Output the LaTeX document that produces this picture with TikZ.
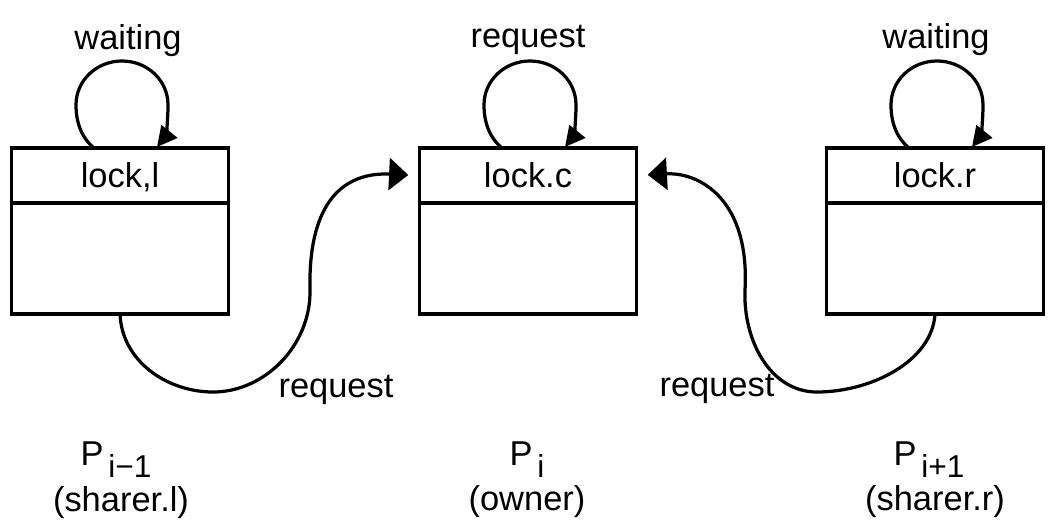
\documentclass[tikz,border=0pt]{standalone}
\usepackage{fontspec}
\setmainfont{Liberation Sans}
\usetikzlibrary{arrows.meta}
% lowered index after a process name
\newcommand\psub[1]{\hspace{0.14em}\raisebox{-0.36em}{\fontsize{22.5}{26}\selectfont #1}}
% self-loop standing on top of a lock cell
\newcommand\selfloop[1]{%
  \begin{scope}[shift={(#1.north)}]
    \draw[loopline] (-26,0) .. controls (-36,-8) and (-44,-22) .. (-44,-43)
      .. controls (-44,-68) and (-23,-87) .. (2,-87)
      .. controls (27,-87) and (48,-68) .. (48,-43)
      .. controls (48,-24) and (45,-11) .. (37,-1);
  \end{scope}}
\begin{document}
\begin{tikzpicture}[x=0.025cm,y=-0.025cm,
  every node/.style={font=\fontsize{24.5}{28}\selectfont},
  cell/.style={draw, line width=2.2pt, inner sep=0pt, outer sep=0pt, minimum width=5.425cm},
  head/.style={cell, minimum height=1.375cm, text depth=0pt},
  body/.style={cell, minimum height=2.775cm, anchor=north},
  lbl/.style={anchor=base, inner sep=0pt},
  wire/.style={line width=2.3pt},
  loopline/.style={wire, -{Triangle[length=0.5cm,width=0.5cm]}},
  reqline/.style={wire, -{Triangle[length=0.48cm,width=0.8cm]}, shorten >=0.28cm},
]
\useasboundingbox (0,0) rectangle (1054,529);

% lock cells of the three processes
\node[head] (lockl) at (120,175.5) {lock,l};
\node[body] (bodyl) at (lockl.south) {};
\node[head] (lockc) at (528,175.5) {lock.c};
\node[body] (bodyc) at (lockc.south) {};
\node[head] (lockr) at (935,175.5) {lock.r};
\node[body] (bodyr) at (lockr.south) {};

% self-loops and their labels
\selfloop{lockl}
\selfloop{lockc}
\selfloop{lockr}
\node[lbl] (waitl) at (128,49) {waiting};
\node[lbl] (reqtop) at (528,47) {request};
\node[lbl] (waitr) at (936,48) {waiting};

% requests from the sharers to the owner
\draw[reqline] (bodyl.south) .. controls (122,362) and (168,392) .. (213,392)
  .. controls (265,392) and (311,345) .. (310,290)
  .. controls (308,200) and (345,172) .. (lockc.west);
\draw[reqline] (bodyr.south) .. controls (932,362) and (870,392) .. (817,392)
  .. controls (770,392) and (743,340) .. (745,290)
  .. controls (750,200) and (700,172) .. (lockc.east);
\node[lbl] (reql) at (336,397) {request};
\node[lbl] (reqr) at (717,396) {request};

% process names
\node[lbl] (pl) at (116,465) {P\psub{i−1}};
\node[lbl] (pc) at (527,465) {P\psub{i}};
\node[lbl] (pr) at (929,465) {P\psub{i+1}};
\node[lbl] (rolel) at (121,511) {(sharer.l)};
\node[lbl] (rolec) at (527,510) {(owner)};
\node[lbl] (roler) at (935,510) {(sharer.r)};
\end{tikzpicture}
\end{document}
